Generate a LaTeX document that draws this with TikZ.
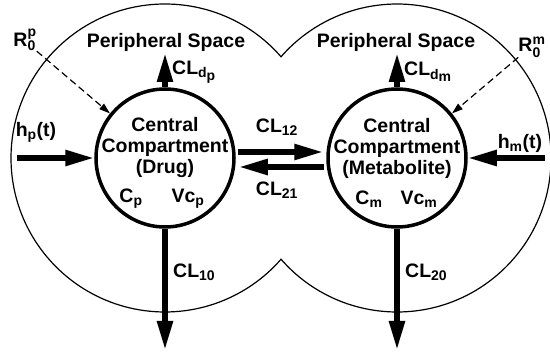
\documentclass[tikz,border=0pt]{standalone}
\usepackage{fontspec}
\setmainfont{Liberation Sans}
\usetikzlibrary{positioning,arrows.meta}

\newcommand{\subfont}{\fontsize{14}{14}\selectfont}
\newcommand{\lowtxt}[1]{$_{\hbox{\subfont#1}}$}
\newcommand{\stacktxt}[2]{$_{\hbox{\subfont#1}}^{\hbox{\subfont#2}}$}

\begin{document}
\begin{tikzpicture}[
  x=1pt, y=1pt,
  txt/.style={font=\fontsize{19.5}{21}\selectfont\bfseries, inner sep=0pt},
  compartment/.style={circle, draw, line width=3.5pt, minimum size=138pt, inner sep=0pt},
  flow/.style={line width=5.5pt, -{Triangle[length=29pt, width=15pt]}},
  dose/.style={dash pattern=on 7pt off 4pt, line width=1.2pt, -{Triangle[length=11pt, width=7pt]}},
]
  \useasboundingbox (0,0) rectangle (550,354);

  % central compartments
  \node[compartment] (drug) at (165,196) {};
  \node[compartment] (met) at (397,196) {};

  % body outline
  \draw[line width=1.2pt] (drug.center) ++(41.1:154)
    arc[start angle=41.1, end angle=318.9, radius=154]
    arc[start angle=221.1, end angle=498.9, radius=154] -- cycle;

  % texts inside the compartments
  \node[txt, align=center] (drugname) at (165,206) {Central\\Compartment\\(Drug)};
  \node[txt] (cp) at (131,155) {C\lowtxt{p}};
  \node[txt] (vcp) at (188,155) {Vc\lowtxt{p}};
  \node[txt, align=center] (metname) at (397,206) {Central\\Compartment\\(Metabolite)};
  \node[txt] (cm) at (369,155) {C\lowtxt{m}};
  \node[txt] (vcm) at (419,155) {Vc\lowtxt{m}};

  % peripheral spaces
  \node[txt] (periphp) at (166,312) {Peripheral Space};
  \node[txt] (periphm) at (396,312) {Peripheral Space};
  \coordinate (drugup) at (165,301);
  \coordinate (metup) at (397,301);
  \draw[flow] (drug.north) -- (drugup);
  \draw[flow] (met.north) -- (metup);
  \node[txt, anchor=west] (cldp) at (172,282) {CL\lowtxt{d\lowtxt{p}}};
  \node[txt, anchor=west] (cldm) at (404,282) {CL\lowtxt{d\lowtxt{m}}};

  % elimination
  \coordinate (drugdown) at (165,4);
  \coordinate (metdown) at (397,4);
  \draw[flow] (drug.south) -- (drugdown);
  \draw[flow] (met.south) -- (metdown);
  \node[txt, anchor=west] (cl10) at (173,82) {CL\lowtxt{10}};
  \node[txt, anchor=west] (cl20) at (405,82) {CL\lowtxt{20}};

  % inputs
  \coordinate (hpin) at (17,196);
  \coordinate (hmin) at (545,196);
  \draw[flow] (hpin) -- (drug.west);
  \draw[flow] (hmin) -- (met.east);
  \node[txt] (hp) at (36,222) {h\lowtxt{p}(t)};
  \node[txt] (hm) at (520,211) {h\lowtxt{m}(t)};

  % exchange between compartments
  \draw[flow, shorten <=2pt, shorten >=3pt] ([yshift=6]drug.east) -- ([yshift=6]met.west);
  \draw[flow, shorten <=2pt, shorten >=3pt] ([yshift=-9]met.west) -- ([yshift=-9]drug.east);
  \node[txt] (cl12) at (277,227) {CL\lowtxt{12}};
  \node[txt] (cl21) at (277,164) {CL\lowtxt{21}};

  % initial amounts
  \node[txt] (r0p) at (25,314) {R\stacktxt{0}{p}};
  \node[txt] (r0m) at (532,307) {R\stacktxt{0}{m}};
  \draw[dose] (r0p.south east) -- (drug.141);
  \draw[dose] (r0m.south west) -- (met.39);
\end{tikzpicture}
\end{document}
